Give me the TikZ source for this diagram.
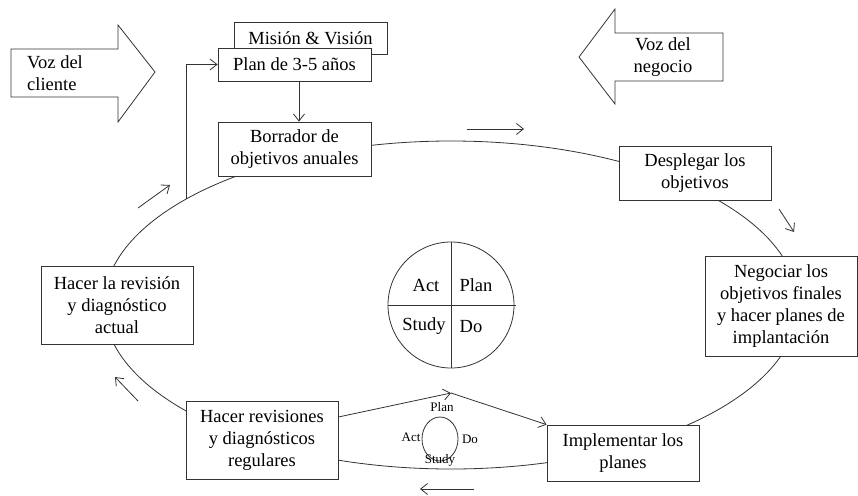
\documentclass[tikz,border=0pt]{standalone}
\usepackage{fontspec}
\setmainfont{Liberation Serif}
\usetikzlibrary{arrows.meta,shapes.geometric}
\begin{document}
\begin{tikzpicture}[x=1pt,y=-1pt,
  ln/.style={draw=black!80, line width=0.8pt},
  arr/.style={ln, -{Straight Barb[length=7pt,width=11pt]}},
  box/.style={ln, fill=white, align=center, inner sep=0pt, font=\fontsize{18.5}{22}\selectfont},
  lbl/.style={inner sep=0pt, font=\fontsize{18.5}{22}\selectfont},
  sm/.style={inner sep=0pt, font=\fontsize{13}{15}\selectfont}]
\useasboundingbox (0,0) rectangle (858,495);
% main cycle
\draw[ln] (451,305) ellipse [x radius=347, y radius=164];
% block arrows
\draw[ln, fill=white] (11,49) -- (118,49) -- (118,25) -- (155,72) -- (118,122) -- (118,97) -- (11,97) -- cycle;
\node[lbl, anchor=west, align=left] (vc) at (27,73) {Voz del\\cliente};
\draw[ln, fill=white] (723,33) -- (615,33) -- (615,9) -- (579,57) -- (615,104) -- (615,81) -- (723,81) -- cycle;
\node[lbl, align=center] (vn) at (663,57) {Voz del\\negocio};
% boxes
\node[box, minimum width=153pt, minimum height=32pt] (mv) at (310.5,38) {Misión \& Visión};
\node[box, minimum width=153pt, minimum height=33pt] (plan) at (294.5,64.5) {Plan de 3-5 años};
\node[box, minimum width=153pt, minimum height=54pt] (borr) at (294.5,149) {Borrador de\\objetivos anuales};
\node[box, minimum width=152pt, minimum height=54pt] (despl) at (695,173) {Desplegar los\\objetivos};
\node[box, minimum width=152pt, minimum height=100pt] (nego) at (781,306) {Negociar los\\objetivos finales\\y hacer planes de\\implantación};
\node[box, minimum width=152pt, minimum height=56pt] (impl) at (623,453) {Implementar los\\planes};
\node[box, minimum width=152pt, minimum height=78pt] (hrev) at (117,305) {Hacer la revisión\\y diagnóstico\\actual};
\node[box, minimum width=152pt, minimum height=78pt] (hreg) at (262,440) {Hacer revisiones\\y diagnósticos\\regulares};
% connectors
\coordinate (e1) at (186,199);
\draw[arr] (e1) |- (plan.west);
\draw[arr] ([xshift=4.5pt]plan.south) -- ([xshift=4.5pt]borr.north);
\coordinate (apex) at (451,393);
\draw[arr] ([yshift=23pt]hreg.east) -- (apex);
\draw[arr] (apex) -- (impl.north west);
% direction arrows
\draw[arr] (467,129) -- (524,129);
\draw[arr] (779,209) -- (794,232);
\draw[arr] (474,489) -- (420,489);
\draw[arr] (138,401) -- (115,377);
\draw[arr] (138,208) -- (170,185);
% big PDCA
\node[ln, circle, minimum size=126pt, inner sep=0pt] (pdca) at (451,305) {};
\draw[ln] (pdca.north) -- (pdca.south);
\draw[ln] (pdca.west) -- ([xshift=2pt]pdca.east);
\node[lbl] (pact) at (426,285) {Act};
\node[lbl] (pplan) at (476,285) {Plan};
\node[lbl] (pstudy) at (424,326) {Study};
\node[lbl] (pdo) at (471,327) {Do};
% small PDCA
\node[ln, ellipse, minimum width=36pt, minimum height=44pt, inner sep=0pt] (spdca) at (440,439) {};
\node[sm] (splan) at (442,407) {Plan};
\node[sm] (sact) at (411,437) {Act};
\node[sm] (sdo) at (470,439) {Do};
\node[sm] (sstudy) at (440,460) {Study};
\end{tikzpicture}
\end{document}
